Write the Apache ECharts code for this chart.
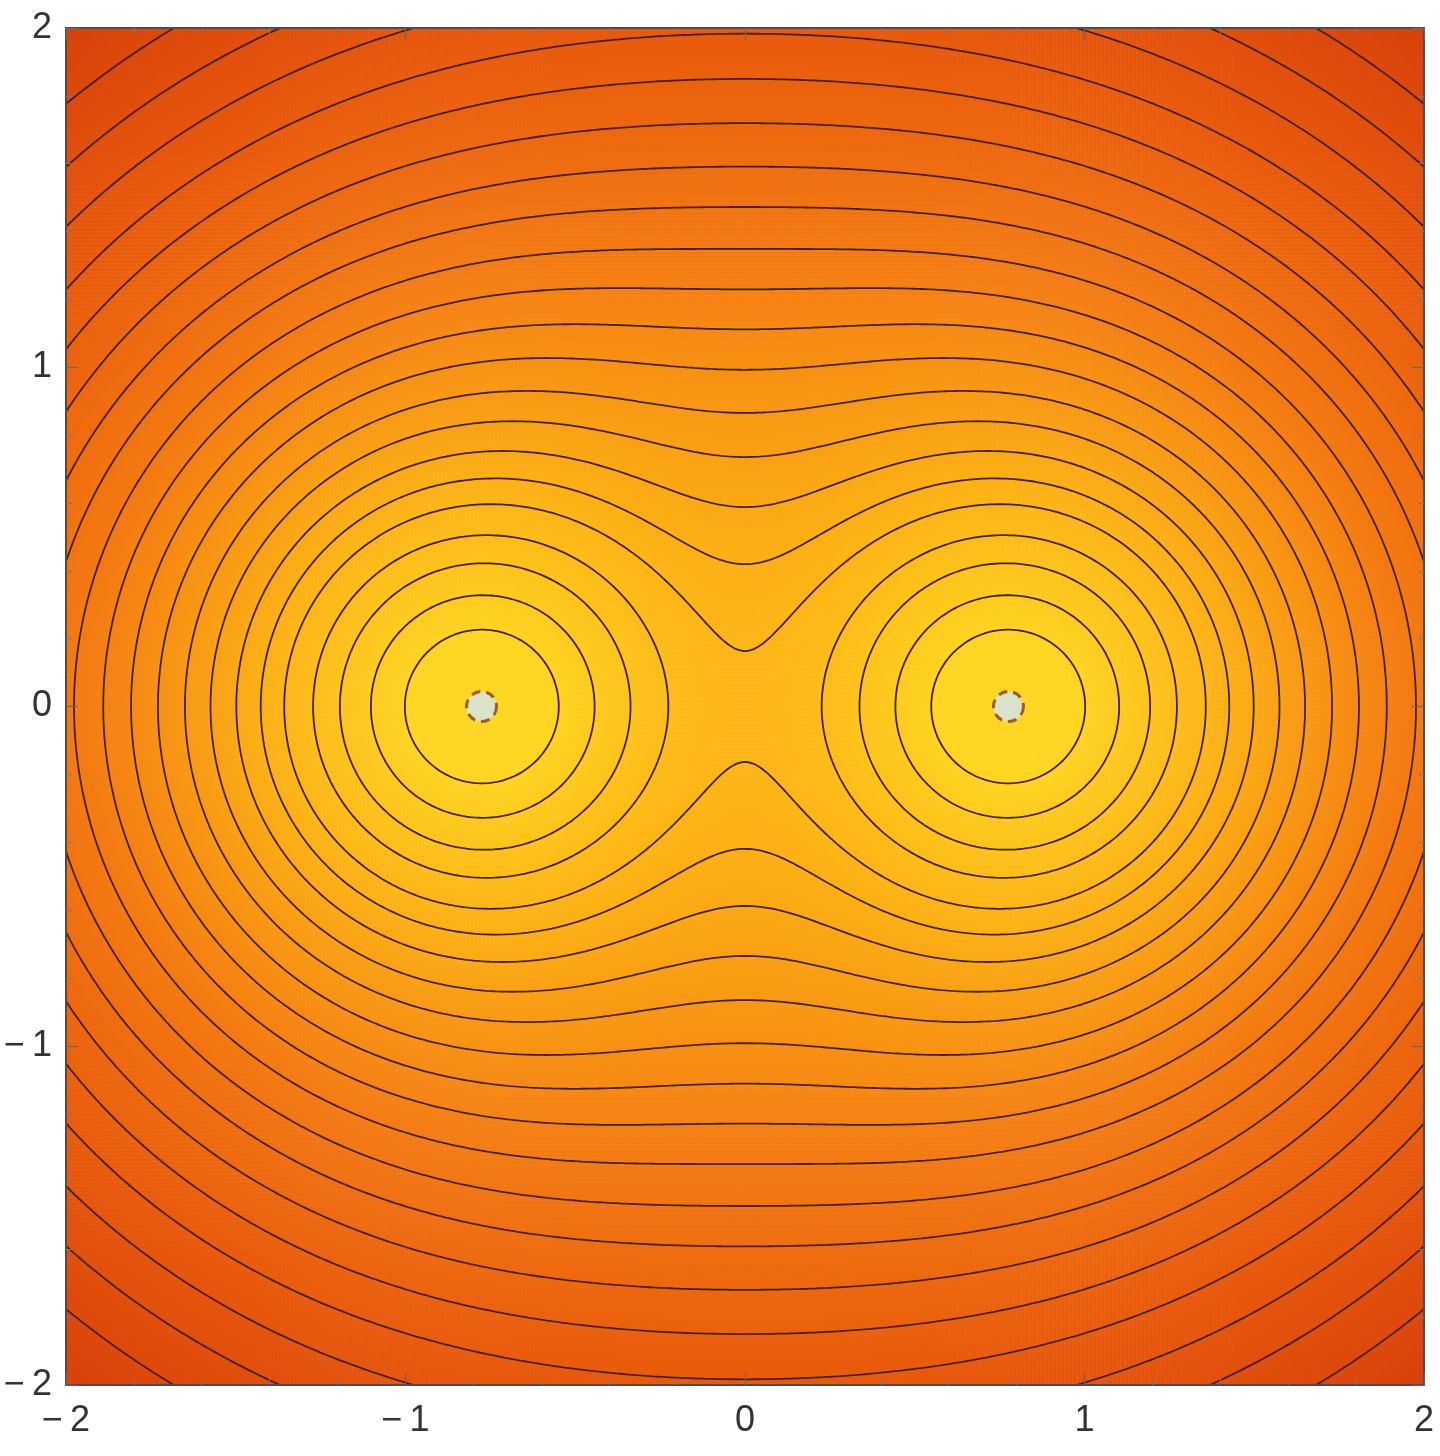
<!DOCTYPE html>
<html>
<head>
<meta charset="utf-8">
<style>
  html, body { margin: 0; padding: 0; background: #fff; }
  #chart { width: 1440px; height: 1456px; }
</style>
<script src="https://cdn.jsdelivr.net/npm/echarts@6/dist/echarts.min.js"></script>
</head>
<body>
<div id="chart"></div>
<script>
// two equal point sources on the x axis
const chargeX = [-0.776, 0.776];
const chargeY = [0, 0];
const chargeQ = [1, 1];
// contour values of sum(q / r^2) (inner ring -> corner)
const contourLevels = [19.9, 9.69, 6.0, 4.3, 3.18, 2.57, 2.11, 1.75, 1.48, 1.26, 1.088,
  0.946, 0.826, 0.722, 0.638, 0.562, 0.497, 0.441, 0.389, 0.346, 0.307];
const tickValues = [-2, -1, 0, 1, 2];
const axisMin = -2, axisMax = 2;

const fillColors = ['#ffd520', '#fcaf15', '#f47c12', '#e95b0d', '#d8420c'];

function field (x, y) {
  let s = 0;
  for (let k = 0; k < chargeX.length; k++) {
    const dx = x - chargeX[k], dy = y - chargeY[k];
    s += chargeQ[k] / (dx * dx + dy * dy);
  }
  return s;
}
// distance-like transform, smooth enough for linear interpolation
function dist (x, y) {
  return 1 / Math.sqrt(field(x, y));
}

// heatmap cells
const N = 340;
const cellStep = (axisMax - axisMin) / N;
const cats = [];
for (let i = 0; i < N; i++) cats.push(i);
const heat = [];
for (let i = 0; i < N; i++) {
  for (let j = 0; j < N; j++) {
    heat.push([i, j, dist(axisMin + (i + 0.5) * cellStep, axisMin + (j + 0.5) * cellStep)]);
  }
}

// marching squares on a finer grid
const M = 400;
const gs = (axisMax - axisMin) / M;
const G = [];
for (let j = 0; j <= M; j++) {
  const row = [];
  for (let i = 0; i <= M; i++) row.push(dist(axisMin + i * gs, axisMin + j * gs));
  G.push(row);
}

function contourLines (lvl) {
  const pts = {};
  const adj = {};
  const segs = [];
  function edgePoint (key, xa, ya, va, xb, yb, vb) {
    if (!pts[key]) {
      const t = (lvl - va) / (vb - va);
      pts[key] = [xa + t * (xb - xa), ya + t * (yb - ya)];
    }
    return key;
  }
  for (let j = 0; j < M; j++) {
    for (let i = 0; i < M; i++) {
      const x0 = axisMin + i * gs, x1 = x0 + gs;
      const y0 = axisMin + j * gs, y1 = y0 + gs;
      const v0 = G[j][i], v1 = G[j][i + 1], v2 = G[j + 1][i + 1], v3 = G[j + 1][i];
      const a0 = v0 > lvl, a1 = v1 > lvl, a2 = v2 > lvl, a3 = v3 > lvl;
      const e = [null, null, null, null];
      if (a0 !== a1) e[0] = edgePoint('h' + i + '_' + j, x0, y0, v0, x1, y0, v1);
      if (a1 !== a2) e[1] = edgePoint('v' + (i + 1) + '_' + j, x1, y0, v1, x1, y1, v2);
      if (a3 !== a2) e[2] = edgePoint('h' + i + '_' + (j + 1), x0, y1, v3, x1, y1, v2);
      if (a0 !== a3) e[3] = edgePoint('v' + i + '_' + j, x0, y0, v0, x0, y1, v3);
      const hit = e.filter(k => k !== null);
      if (hit.length === 2) {
        segs.push([hit[0], hit[1]]);
      } else if (hit.length === 4) {
        const c = (v0 + v1 + v2 + v3) / 4 > lvl;
        if (a0 !== c) segs.push([e[3], e[0]]);
        if (a1 !== c) segs.push([e[0], e[1]]);
        if (a2 !== c) segs.push([e[1], e[2]]);
        if (a3 !== c) segs.push([e[2], e[3]]);
      }
    }
  }
  segs.forEach((s, idx) => {
    (adj[s[0]] = adj[s[0]] || []).push(idx);
    (adj[s[1]] = adj[s[1]] || []).push(idx);
  });
  const used = new Array(segs.length).fill(false);
  const lines = [];
  function walk (start) {
    const path = [pts[start]];
    let cur = start;
    while (true) {
      const next = (adj[cur] || []).find(idx => !used[idx]);
      if (next === undefined) break;
      used[next] = true;
      const s = segs[next];
      cur = s[0] === cur ? s[1] : s[0];
      path.push(pts[cur]);
    }
    if (path.length > 1) lines.push(path);
  }
  Object.keys(adj).forEach(k => { if (adj[k].length === 1) walk(k); });
  segs.forEach((s, idx) => { if (!used[idx]) walk(s[0]); });
  return lines;
}

const lineSeries = [];
contourLevels.forEach(L => {
  contourLines(1 / Math.sqrt(L)).forEach(path => {
    lineSeries.push({
      type: 'line',
      xAxisIndex: 1,
      yAxisIndex: 1,
      data: path,
      symbol: 'none',
      silent: true,
      animation: false,
      lineStyle: { color: '#43200f', width: 1.8 },
      z: 3
    });
  });
});

function fmt (v) {
  return v < 0 ? '\u2212\u2009' + Math.abs(v) : String(v);
}

const tickFont = { fontFamily: 'Liberation Sans', fontSize: 36, color: '#333' };

function valueAxis (pos, labels) {
  return {
    type: 'value',
    position: pos,
    min: axisMin,
    max: axisMax,
    interval: 1,
    z: 10,
    axisLine: { show: true, onZero: false, lineStyle: { color: '#4d4d4d', width: 2 } },
    axisTick: { show: true, inside: true, length: 12, lineStyle: { color: '#666', width: 1.2 } },
    minorTick: { show: true, splitNumber: 5, length: 6, lineStyle: { color: '#777', width: 1 } },
    splitLine: { show: false },
    axisLabel: labels
      ? Object.assign({ show: true, margin: (pos === 'bottom' ? 18 : 14), formatter: fmt }, tickFont)
      : { show: false }
  };
}

const chart = echarts.init(document.getElementById('chart'));
chart.setOption({
  animation: false,
  backgroundColor: '#fff',
  grid: { left: 66, right: 16, top: 28, bottom: 71, containLabel: false },
  xAxis: [
    { type: 'category', data: cats, show: false, boundaryGap: true },
    valueAxis('bottom', true),
    valueAxis('top', false)
  ],
  yAxis: [
    { type: 'category', data: cats, show: false, boundaryGap: true },
    valueAxis('left', true),
    valueAxis('right', false)
  ],
  visualMap: {
    show: false,
    type: 'continuous',
    min: 0.2,
    max: 1.93,
    dimension: 2,
    seriesIndex: 0,
    inRange: { color: fillColors }
  },
  series: [
    {
      type: 'heatmap',
      xAxisIndex: 0,
      yAxisIndex: 0,
      data: heat,
      progressive: 0,
      silent: true,
      emphasis: { disabled: true }
    }
  ].concat(lineSeries, [
    {
      type: 'scatter',
      xAxisIndex: 1,
      yAxisIndex: 1,
      data: chargeX.map((x, k) => [x, chargeY[k]]),
      symbol: 'circle',
      symbolSize: 30,
      silent: true,
      z: 5,
      itemStyle: {
        color: '#cfe6f4',
        borderColor: '#8a3c12',
        borderWidth: 3,
        borderType: [9, 6]
      }
    }
  ])
});
</script>
</body>
</html>
